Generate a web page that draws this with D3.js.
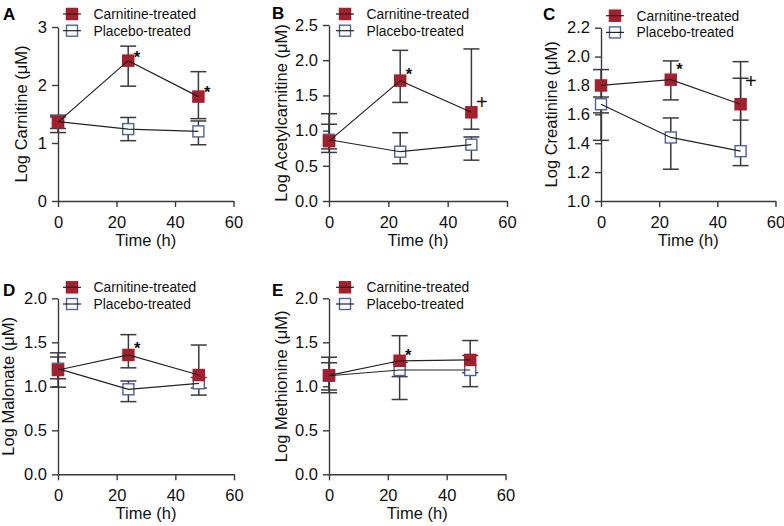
<!DOCTYPE html>
<html><head><meta charset="utf-8">
<script src="https://cdn.jsdelivr.net/npm/d3@7"></script>
<style>
body{margin:0;background:#fff}
svg{display:block;font-family:"Liberation Sans",Arial,Helvetica,sans-serif}
</style>
</head><body>
<svg id="chart" width="784" height="526"></svg>
<script>
// ---------- data ----------
const times = [0, 24, 48];
const xTicks = [0, 20, 40, 60];
const seriesNames = ["Carnitine-treated", "Placebo-treated"];
const panelLetters = ["A", "B", "C", "D", "E"];
const yTitles = ["Log Carnitine (\u03BCM)", "Log Acetylcarnitine (\u03BCM)", "Log Creatinine (\u03BCM)", "Log Malonate (\u03BCM)", "Log Methionine (\u03BCM)"];
const yDomains = [[0, 3], [0, 2.5], [1.0, 2.2], [0, 2.0], [0, 2.0]];
const yTicks = [
  [0, 1, 2, 3],
  [0, 0.5, 1.0, 1.5, 2.0, 2.5],
  [1.0, 1.2, 1.4, 1.6, 1.8, 2.0, 2.2],
  [0, 0.5, 1.0, 1.5, 2.0],
  [0, 0.5, 1.0, 1.5, 2.0]
];
const yTickFormats = ["d", ".1f", ".1f", ".1f", ".1f"];

// Carnitine-treated: mean, lower, upper
const carnMean = [[1.36, 2.42, 1.80], [0.85, 1.71, 1.26], [1.80, 1.84, 1.67], [1.185, 1.356, 1.128], [1.125, 1.29, 1.30]];
const carnLow  = [[1.18, 1.98, 1.42], [0.69, 1.40, 1.02], [1.61, 1.70, 1.56], [0.99, 1.21, 0.98], [0.927, 0.85, 1.155]];
const carnHigh = [[1.48, 2.67, 2.23], [1.24, 2.14, 2.16], [1.91, 1.97, 1.965], [1.38, 1.587, 1.469], [1.33, 1.575, 1.52]];
// Placebo-treated: mean, lower, upper
const placMean = [[1.37, 1.24, 1.20], [0.87, 0.70, 0.80], [1.67, 1.44, 1.345], [1.20, 0.966, 1.034], [1.12, 1.185, 1.185]];
const placLow  = [[1.25, 1.04, 0.97], [0.74, 0.53, 0.58], [1.42, 1.22, 1.245], [1.086, 0.826, 0.90], [0.958, 1.11, 0.996]];
const placHigh = [[1.45, 1.44, 1.38], [1.09, 0.97, 0.91], [1.72, 1.575, 1.85], [1.333, 1.06, 1.10], [1.268, 1.27, 1.35]];

// significance marks: [panel, time, value at mark centre, symbol]
const marks = [
  [0, 24, 2.54, "*"], [0, 48, 1.94, "*"],
  [1, 24, 1.85, "*"], [1, 48, 1.41, "+"],
  [2, 24, 1.94, "*"], [2, 48, 1.83, "+"],
  [3, 24, 1.47, "*"],
  [4, 24, 1.40, "*"]
];

// ---------- layout ----------
const layout = [
  {x0: 58,  x1: 233.5, yT: 27,    yB: 201,   letterX: 3,   letterY: 20,    titleOff: 31, legX: 72,  legY: 14},
  {x0: 329, x1: 507,   yT: 25,    yB: 201,   letterX: 272, letterY: 19,    titleOff: 42, legX: 345, legY: 14},
  {x0: 601, x1: 775.5, yT: 27.7,  yB: 201,   letterX: 543, letterY: 20,    titleOff: 44, legX: 615, legY: 15.7},
  {x0: 58,  x1: 234,   yT: 298.3, yB: 474.3, letterX: 3,   letterY: 295.5, titleOff: 44, legX: 72,  legY: 287.3},
  {x0: 329, x1: 505.5, yT: 298.3, yB: 474.3, letterX: 272, letterY: 295.5, titleOff: 42, legX: 345, legY: 287.3}
];

const RED = "#a3202f", BLUE = "#4f6399", AX = "#3a3a3a", LINE = "#222";
const svg = d3.select("#chart");

layout.forEach((L, p) => {
  const g = svg.append("g");
  const x = d3.scaleLinear().domain([0, 60]).range([L.x0, L.x1]);
  const y = d3.scaleLinear().domain(yDomains[p]).range([L.yB, L.yT]);

  // axes
  const xa = g.append("g").attr("transform", `translate(0,${L.yB})`)
    .call(d3.axisBottom(x).tickValues(xTicks).tickSize(6).tickPadding(9).tickSizeOuter(0));
  const ya = g.append("g").attr("transform", `translate(${L.x0},0)`)
    .call(d3.axisLeft(y).tickValues(yTicks[p]).tickFormat(d3.format(yTickFormats[p])).tickSize(6).tickPadding(5).tickSizeOuter(0));
  [xa, ya].forEach(a => {
    a.selectAll("path,line").attr("stroke", AX).attr("stroke-width", 1.4);
    a.selectAll("text").attr("font-size", 16.5).attr("fill", "#111")
      .attr("font-family", "Liberation Sans, Arial, sans-serif");
  });

  // titles
  g.append("text").attr("x", (L.x0 + L.x1) / 2).attr("y", L.yB + 45)
    .attr("text-anchor", "middle").attr("font-size", 16.5).attr("fill", "#111").text("Time (h)");
  g.append("text").attr("transform", `translate(${L.x0 - L.titleOff},${(L.yT + L.yB) / 2}) rotate(-90)`)
    .attr("text-anchor", "middle").attr("font-size", 16.5).attr("fill", "#111").text(yTitles[p]);
  g.append("text").attr("x", L.letterX).attr("y", L.letterY)
    .attr("font-size", 17).attr("font-weight", "bold").attr("fill", "#000").text(panelLetters[p]);

  const series = [
    {mean: carnMean[p], lo: carnLow[p], hi: carnHigh[p], fill: RED, stroke: RED, size: 12.5},
    {mean: placMean[p], lo: placLow[p], hi: placHigh[p], fill: "#fff", stroke: BLUE, size: 11}
  ];

  // error bars
  series.forEach(s => {
    times.forEach((t, i) => {
      const cx = x(t);
      g.append("line").attr("x1", cx).attr("x2", cx).attr("y1", y(s.lo[i])).attr("y2", y(s.hi[i]))
        .attr("stroke", AX).attr("stroke-width", 1.5);
      [s.lo[i], s.hi[i]].forEach(v => {
        g.append("line").attr("x1", cx - 8).attr("x2", cx + 8).attr("y1", y(v)).attr("y2", y(v))
          .attr("stroke", AX).attr("stroke-width", 1.5);
      });
    });
  });
  // markers (placebo first, carnitine on top)
  [series[1], series[0]].forEach(s => {
    times.forEach((t, i) => {
      const sz = s.size;
      g.append("rect").attr("x", x(t) - sz / 2).attr("y", y(s.mean[i]) - sz / 2)
        .attr("width", sz).attr("height", sz)
        .attr("fill", s.fill).attr("stroke", s.stroke).attr("stroke-width", s.fill === "#fff" ? 1.4 : 0);
    });
  });
  // connecting lines
  const lineGen = d3.line().x((d, i) => x(times[i])).y(d => y(d));
  series.forEach(s => {
    g.append("path").attr("d", lineGen(s.mean)).attr("fill", "none").attr("stroke", LINE).attr("stroke-width", 1.2);
  });

  // legend
  series.forEach((s, k) => {
    const ly = L.legY + k * 16.7;
    const sz = k === 0 ? 12.5 : 11;
    g.append("rect").attr("x", L.legX - sz / 2).attr("y", ly - sz / 2).attr("width", sz).attr("height", sz)
      .attr("fill", s.fill).attr("stroke", s.stroke).attr("stroke-width", k === 1 ? 1.4 : 0);
    g.append("line").attr("x1", L.legX - 9).attr("x2", L.legX + 9).attr("y1", ly).attr("y2", ly)
      .attr("stroke", LINE).attr("stroke-width", 1.2);
    g.append("text").attr("x", L.legX + 21.5).attr("y", ly + 5).attr("font-size", 13.8).attr("fill", "#111")
      .text(seriesNames[k]);
  });

  // significance marks
  marks.filter(m => m[0] === p).forEach(m => {
    const isStar = m[3] === "*";
    g.append("text")
      .attr("x", x(m[1]) + (isStar ? 5.5 : 4.5))
      .attr("y", y(m[2]) + (isStar ? 9.5 : 7))
      .attr("font-size", isStar ? 16.5 : 20).attr("font-weight", isStar ? "bold" : "normal")
      .attr("fill", "#111").text(m[3]);
  });
});
</script>
</body></html>
